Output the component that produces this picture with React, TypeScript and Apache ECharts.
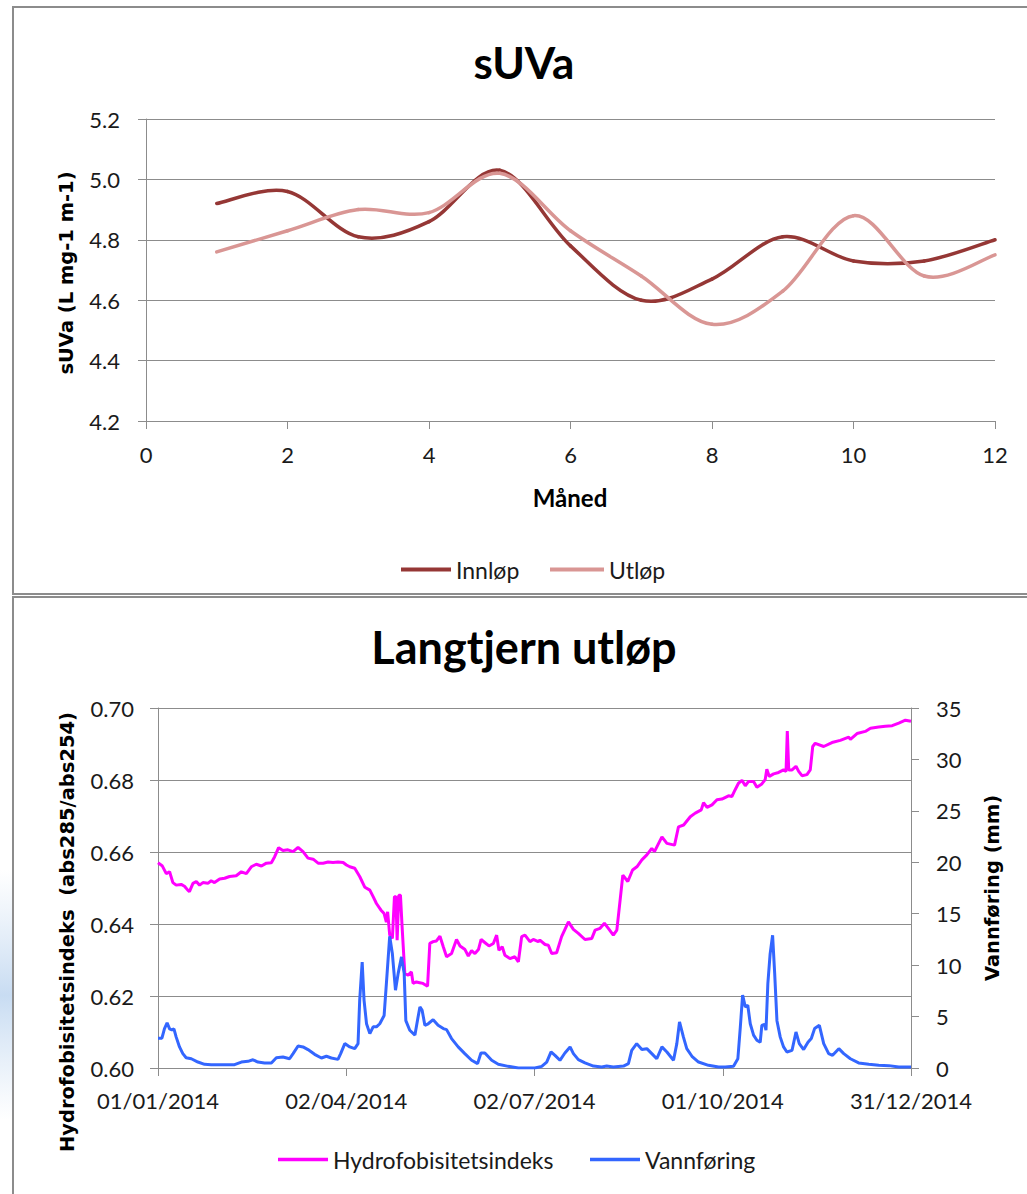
import React, { useEffect, useRef } from "react";
import * as echarts from "echarts";

// ---- Top chart: sUVa ----
const months = [1, 2, 3, 4, 5, 6, 7, 8, 9, 10, 11, 12];
const innlop = [4.92, 4.96, 4.81, 4.86, 5.03, 4.78, 4.6, 4.67, 4.81, 4.73, 4.73, 4.8];
const utlop = [4.76, 4.83, 4.9, 4.89, 5.02, 4.83, 4.68, 4.52, 4.63, 4.88, 4.68, 4.75];

// ---- Bottom chart: Langtjern utløp (day of year 2014, value) ----
const dateTickLabels = ["01/01/2014", "02/04/2014", "02/07/2014", "01/10/2014", "31/12/2014"];

const hydroIndex: [number, number][] = [
  [0, 0.657], [2, 0.6562], [4, 0.654], [5.6, 0.6545], [7.2, 0.6515], [8.8, 0.6508], [11.2, 0.651],
  [12.8, 0.6505], [14.4, 0.6494], [15.2, 0.649], [16.9, 0.6513], [18.5, 0.6518], [20.1, 0.6508],
  [21.7, 0.6515], [24.1, 0.6513], [25.7, 0.652], [27.3, 0.6515], [29.8, 0.6525], [32.2, 0.6527],
  [34.6, 0.6532], [37.8, 0.6534], [40.3, 0.6545], [42.7, 0.654], [45.1, 0.6559], [47.5, 0.6566],
  [50, 0.6561], [52.4, 0.6569], [54.8, 0.657], [56.4, 0.6587], [58.3, 0.6612], [60.4, 0.6604],
  [62.8, 0.6606], [65.3, 0.6601], [67.7, 0.6613], [70.1, 0.6601], [72.5, 0.6583], [75, 0.658],
  [77.4, 0.6569], [79.8, 0.6569], [82.2, 0.6572], [84.6, 0.6571], [87, 0.6572], [89.5, 0.6571],
  [91.1, 0.6564], [92.7, 0.6559], [95.1, 0.6555], [97.5, 0.6532], [100, 0.6502], [102.4, 0.6494],
  [104, 0.6476], [105.6, 0.6457], [107.7, 0.6439], [109.3, 0.6429], [110.4, 0.6405], [111, 0.6434],
  [112, 0.637], [113.3, 0.636], [114.3, 0.6476], [115, 0.6476], [115.6, 0.6355], [116.4, 0.648],
  [117.2, 0.648], [118, 0.6392], [119.3, 0.6262], [120.9, 0.6258], [122.5, 0.6267], [123.3, 0.6235],
  [124.9, 0.6239], [126.5, 0.6237], [128.1, 0.6235], [130.3, 0.6227], [131.4, 0.6346], [133, 0.6351],
  [134.6, 0.6353], [136.3, 0.6366], [137.9, 0.6337], [139.5, 0.6309], [141.9, 0.6318], [144.3, 0.6357],
  [146, 0.6339], [148.4, 0.6329], [150, 0.6311], [151.6, 0.6326], [153.2, 0.6318], [154.9, 0.6329],
  [156.2, 0.6357], [158.1, 0.6348], [160, 0.6339], [162.1, 0.6346], [163.7, 0.6369], [164.8, 0.6327],
  [166.4, 0.6337], [167.7, 0.6313], [170.1, 0.6304], [172.5, 0.6309], [174.2, 0.6295], [175.8, 0.6365],
  [177.4, 0.6369], [179.8, 0.6351], [181.4, 0.6357], [183.8, 0.6351], [184.6, 0.6355], [187.1, 0.6343],
  [188.7, 0.6341], [190.3, 0.6318], [192.7, 0.632], [195.1, 0.6365], [198.4, 0.6406], [200.8, 0.6385],
  [203.2, 0.6374], [206.4, 0.6357], [209.7, 0.636], [211.3, 0.6383], [213.7, 0.6388], [215.8, 0.6402],
  [217.7, 0.6388], [220.1, 0.6369], [221.8, 0.6383], [223.4, 0.6467], [224.7, 0.6536], [227.1, 0.6518],
  [229.4, 0.655], [231.5, 0.6559], [233.9, 0.6578], [236.3, 0.6592], [238.7, 0.661], [240, 0.6601],
  [242, 0.6624], [243.6, 0.6642], [246, 0.6624], [249.7, 0.6619], [251.6, 0.667], [254.1, 0.6675],
  [257.3, 0.6698], [259.7, 0.6708], [262.6, 0.6717], [263.7, 0.6737], [265.4, 0.6724], [267.8, 0.6731],
  [270.2, 0.6745], [272.6, 0.6747], [275.8, 0.6756], [277.4, 0.6754], [279, 0.6773], [280.6, 0.6791],
  [282.3, 0.6799], [283.9, 0.6784], [285.5, 0.6796], [287.9, 0.6796], [289.5, 0.678], [291.9, 0.6789],
  [293.5, 0.6801], [294.3, 0.683], [295.5, 0.681], [297.6, 0.6817], [300, 0.6821], [302.4, 0.6828],
  [303.6, 0.6824], [304.2, 0.6936], [304.9, 0.6828], [306.5, 0.6828], [308.4, 0.6838], [309.7, 0.6824],
  [311.3, 0.6812], [313.7, 0.6815], [315.3, 0.6828], [316.5, 0.6893], [317.7, 0.6902], [321.8, 0.6893],
  [325.8, 0.6904], [329.8, 0.691], [333.9, 0.6919], [334.7, 0.6913], [337.9, 0.6929], [341.9, 0.6935],
  [344.4, 0.6944], [348.4, 0.6947], [351.6, 0.6949], [354.9, 0.6951], [358.1, 0.6958], [361.3, 0.6966],
  [364, 0.6963],
];

const vannforing: [number, number][] = [
  [0, 2.9], [1.9, 2.9], [3.1, 3.8], [4.4, 4.4], [5.6, 3.8], [6.7, 3.7], [7.7, 3.8], [8.8, 3.0],
  [10.4, 2.05], [12, 1.4], [13.6, 1.0], [16.1, 0.9], [19.3, 0.58], [22.5, 0.36], [25.7, 0.32],
  [37, 0.32], [40.3, 0.58], [43.5, 0.65], [45.9, 0.8], [48.3, 0.58], [51.5, 0.49], [54.8, 0.49],
  [57.2, 1.0], [60.4, 1.07], [63.6, 0.9], [65.3, 1.4], [67.7, 2.14], [70.1, 2.05], [72.5, 1.79],
  [75.7, 1.33], [79, 0.97], [81.4, 1.14], [83.8, 0.97], [87, 0.84], [88.3, 1.4], [90.3, 2.37],
  [92.7, 2.05], [95.1, 1.88], [96.7, 2.37], [97.5, 6.6], [98.7, 10.3], [99.6, 6.6], [100.8, 4.3],
  [102.4, 3.34], [104, 4.0], [105.6, 4.0], [107.2, 4.3], [109.3, 5.1], [110.4, 8.2], [112, 12.8],
  [113.3, 11.1], [114.8, 7.56], [116.1, 9.2], [117.7, 10.8], [119, 9.2], [119.8, 4.6], [121.7, 3.67],
  [124.2, 3.2], [125.4, 4.6], [126.6, 5.94], [127.7, 5.6], [129, 4.15], [130.6, 4.3], [133, 4.7],
  [135.4, 4.15], [137.9, 3.83], [139.5, 3.73], [141.9, 2.86], [145.1, 2.05], [148.3, 1.4], [151.6, 0.75],
  [154.5, 0.42], [156.1, 1.46], [158, 1.46], [161.3, 0.75], [164.5, 0.36], [169.3, 0.16], [174.2, 0],
  [182.2, 0], [185.5, 0.16], [187.9, 0.58], [190, 1.56], [191.9, 1.23], [194.3, 0.75], [196.7, 1.46],
  [199.2, 2.05], [200.8, 1.4], [203.2, 0.81], [206.4, 0.49], [210.5, 0.19], [214.5, 0.1], [216.9, 0.19],
  [220.1, 0.1], [225, 0.19], [227.4, 0.42], [229, 1.72], [231.4, 2.37], [233.9, 1.79], [236.3, 1.88],
  [238.7, 1.4], [241.1, 0.9], [243.6, 2.05], [246, 1.56], [249.2, 0.75], [250.8, 2.37], [252.1, 4.48],
  [254, 3.0], [255.6, 1.88], [258.1, 1.14], [261.3, 0.58], [266.1, 0.26], [271, 0.1], [274.2, 0.1],
  [278.2, 0.16], [280.3, 0.9], [281.5, 4.0], [282.6, 7.08], [283.9, 5.94], [285.1, 6.1], [286.3, 4.3],
  [287.9, 3.2], [289.5, 2.7], [291.1, 2.5], [291.9, 4.15], [293.2, 4.25], [293.9, 3.67], [294.8, 8.2],
  [295.9, 11.1], [297.1, 12.9], [298.1, 9.2], [299.2, 4.6], [300.8, 3.0], [302.4, 2.05], [304, 1.56],
  [306.5, 1.72], [308.4, 3.5], [310, 2.37], [312.1, 1.79], [314.2, 2.5], [315.8, 2.86], [317.4, 3.83],
  [319.7, 4.15], [321.8, 2.37], [324.2, 1.4], [326.1, 1.23], [329.1, 1.88], [331.5, 1.4], [334.7, 0.9],
  [338.7, 0.49], [343.6, 0.36], [348.4, 0.26], [353.3, 0.23], [358.1, 0.1], [364, 0.1],
];

const GRAY = "#8c8c8c";
const TEXT = "#1a1a1a";
const TICK_FONT = "Lato";
const INN_COLOR = "#953735";
const UT_COLOR = "#D99694";

// Excel-like smoothed line: one cubic Bezier segment per data interval,
// positioned through the grid's own coordinate system (api.coord).
function smoothSegment(xs: number[], ys: number[], color: string) {
  const n = xs.length;
  return (params: any, api: any) => {
    const i = params.dataIndex;
    if (i >= n - 1) return null;
    const c = (k: number) => {
      const j = Math.max(0, Math.min(n - 1, k));
      return api.coord([xs[j], ys[j]]);
    };
    const p0 = c(i - 1), p1 = c(i), p2 = c(i + 1), p3 = c(i + 2);
    const t = 1 / 6;
    return {
      type: "bezierCurve",
      silent: true,
      shape: {
        x1: p1[0], y1: p1[1], x2: p2[0], y2: p2[1],
        cpx1: p1[0] + (p2[0] - p0[0]) * t, cpy1: p1[1] + (p2[1] - p0[1]) * t,
        cpx2: p2[0] - (p3[0] - p1[0]) * t, cpy2: p2[1] - (p3[1] - p1[1]) * t,
      },
      style: { stroke: color, lineWidth: 3.5, fill: "none", lineCap: "round" },
    };
  };
}

export default function App() {
  const ref = useRef<HTMLDivElement>(null);

  useEffect(() => {
    const el = ref.current;
    if (!el) return;
    const chart = echarts.init(el, null, { renderer: "svg" });

    const axisLine = { show: true, lineStyle: { color: GRAY, width: 1 } };
    const axisTick = { show: true, length: 8, lineStyle: { color: GRAY, width: 1 } };
    const labelBase = { fontFamily: TICK_FONT, fontSize: 22, color: TEXT };
    const legendText = { fontFamily: TICK_FONT, fontSize: 23, color: TEXT };

    const nameText = (text: string, x: number, y: number, rot: number, font: string) => ({
      type: "text",
      x,
      y,
      rotation: rot,
      silent: true,
      style: {
        text,
        font,
        fill: "#000",
        align: "center",
        verticalAlign: "middle",
        textAlign: "center",
        textVerticalAlign: "middle",
      },
    });

    chart.setOption({
      animation: false,
      backgroundColor: "#ffffff",
      title: [
        {
          text: "sUVa",
          left: 524,
          top: 40,
          padding: 0,
          textAlign: "center",
          textStyle: { fontFamily: "Lato", fontWeight: "bold", fontSize: 44, color: "#000" },
        },
        {
          text: "Langtjern utløp",
          left: 524,
          top: 624,
          padding: 0,
          textAlign: "center",
          textStyle: { fontFamily: "Lato", fontWeight: "bold", fontSize: 45, color: "#000" },
        },
      ],
      legend: [
        {
          data: [{ name: "Innløp", icon: "rect" }], left: 396, top: 553, itemWidth: 50, itemHeight: 4,
          itemGap: 0, textStyle: legendText,
        },
        {
          data: [{ name: "Utløp", icon: "rect" }], left: 545, top: 553, itemWidth: 54, itemHeight: 4,
          itemGap: 0, textStyle: legendText,
        },
        {
          data: [{ name: "Hydrofobisitetsindeks", icon: "rect" }], left: 273, top: 1143, itemWidth: 50,
          itemHeight: 3.5, itemGap: 0, textStyle: legendText,
        },
        {
          data: [{ name: "Vannføring", icon: "rect" }], left: 585, top: 1143, itemWidth: 50,
          itemHeight: 3.5, itemGap: 0, textStyle: legendText,
        },
      ],
      grid: [
        { left: 146, top: 119, width: 849, height: 302, containLabel: false },
        { left: 158, top: 708, width: 753, height: 360, containLabel: false },
      ],
      xAxis: [
        {
          type: "value", gridIndex: 0, min: 0, max: 12, interval: 2,
          axisLine, axisTick, splitLine: { show: false },
          axisLabel: { ...labelBase, margin: 22 },
        },
        {
          type: "value", gridIndex: 1, min: 0, max: 364, interval: 91,
          axisLine, axisTick, splitLine: { show: false },
          axisLabel: {
            ...labelBase, margin: 21,
            formatter: (v: number) => dateTickLabels[Math.round(v / 91)] ?? "",
          },
        },
      ],
      yAxis: [
        {
          type: "value", gridIndex: 0, min: 4.2, max: 5.2, interval: 0.2,
          axisLine, axisTick,
          splitLine: { show: true, lineStyle: { color: GRAY, width: 1 } },
          axisLabel: { ...labelBase, margin: 26, formatter: (v: number) => v.toFixed(1) },
        },
        {
          type: "value", gridIndex: 1, min: 0.6, max: 0.7, interval: 0.02,
          axisLine, axisTick,
          splitLine: { show: true, lineStyle: { color: GRAY, width: 1 } },
          axisLabel: { ...labelBase, margin: 24, formatter: (v: number) => v.toFixed(2) },
        },
        {
          type: "value", gridIndex: 1, position: "right", min: 0, max: 35, interval: 5,
          axisLine, axisTick, splitLine: { show: false },
          axisLabel: { ...labelBase, margin: 25 },
        },
      ],
      series: [
        {
          type: "custom", name: "Innløp", xAxisIndex: 0, yAxisIndex: 0,
          data: months.map((m, i) => [m, innlop[i]]),
          encode: { x: 0, y: 1 },
          renderItem: smoothSegment(months, innlop, INN_COLOR),
          itemStyle: { color: INN_COLOR },
        },
        {
          type: "custom", name: "Utløp", xAxisIndex: 0, yAxisIndex: 0,
          data: months.map((m, i) => [m, utlop[i]]),
          encode: { x: 0, y: 1 },
          renderItem: smoothSegment(months, utlop, UT_COLOR),
          itemStyle: { color: UT_COLOR },
        },
        {
          type: "line", name: "Hydrofobisitetsindeks", xAxisIndex: 1, yAxisIndex: 1,
          data: hydroIndex, symbol: "none",
          lineStyle: { color: "#FF00FF", width: 3 }, itemStyle: { color: "#FF00FF" },
        },
        {
          type: "line", name: "Vannføring", xAxisIndex: 1, yAxisIndex: 2,
          data: vannforing, symbol: "none",
          lineStyle: { color: "#3366FF", width: 3 }, itemStyle: { color: "#3366FF" },
        },
      ],
      graphic: [
        {
          type: "rect", silent: true, z: -1,
          shape: { x: 0, y: 870, width: 12, height: 250 },
          style: {
            fill: new echarts.graphic.LinearGradient(0, 0, 0, 1, [
              { offset: 0, color: "rgba(210,226,244,0)" },
              { offset: 0.5, color: "rgba(200,220,242,1)" },
              { offset: 1, color: "rgba(210,226,244,0)" },
            ]),
          },
        },
        {
          type: "rect", silent: true,
          shape: { x: 13, y: 7, width: 1030, height: 587 },
          style: { fill: "none", stroke: GRAY, lineWidth: 2 },
        },
        {
          type: "rect", silent: true,
          shape: { x: 13, y: 597, width: 1030, height: 620 },
          style: { fill: "none", stroke: GRAY, lineWidth: 2 },
        },
        nameText("sUVa (L mg-1 m-1)", 66, 273, Math.PI / 2, 'bold 19.5px "DejaVu Sans"'),
        nameText("Måned", 570, 497, 0, "bold 24px Lato"),
        nameText("Hydrofobisitetsindeks  (abs285/abs254)", 67, 932, Math.PI / 2, 'bold 19.5px "DejaVu Sans"'),
        nameText("Vannføring (mm)", 992, 888, Math.PI / 2, 'bold 19.5px "DejaVu Sans"'),
      ],
    });

    return () => chart.dispose();
  }, []);

  return (
    <div
      ref={ref}
      style={{ position: "absolute", left: 0, top: 0, width: 1027, height: 1194, background: "#fff" }}
    />
  );
}
